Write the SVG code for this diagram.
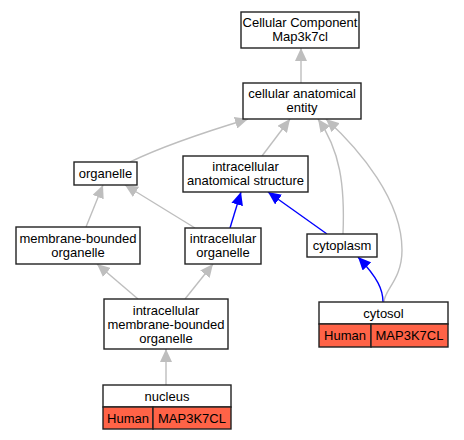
<svg xmlns="http://www.w3.org/2000/svg" width="464" height="440" viewBox="0 0 464 440">
<style>
.box{fill:#fff;stroke:#222;stroke-width:1.4}
.gene{fill:#ff6347;stroke:#222;stroke-width:1.4}
text{font-family:"Liberation Sans",Arial,sans-serif;font-size:13px;text-anchor:middle;fill:#000}
.g{fill:none;stroke:#bebebe;stroke-width:1.4}
.b{fill:none;stroke:#0000ff;stroke-width:1.4}
</style>
<defs>
<marker id="ag" viewBox="0 0 13 12" refX="13" refY="6" markerWidth="13" markerHeight="12" markerUnits="userSpaceOnUse" orient="auto"><path d="M0,0 L13,6 L0,12 z" fill="#bebebe"/></marker>
<marker id="ab" viewBox="0 0 13 12" refX="13" refY="6" markerWidth="13" markerHeight="12" markerUnits="userSpaceOnUse" orient="auto"><path d="M0,0 L13,6 L0,12 z" fill="#0000ff"/></marker>
</defs>
<rect width="464" height="440" fill="#fff"/>
<g id="connectors">
<path class="g" marker-end="url(#ag)" d="M301,83 L301,48"/>
<path class="g" marker-end="url(#ag)" d="M130,162 C165,145 205,132 248,119"/>
<path class="g" marker-end="url(#ag)" d="M262,156 L290,119"/>
<path class="g" marker-end="url(#ag)" d="M343,234 C345,185 340,150 318,119"/>
<path class="g" marker-end="url(#ag)" d="M384,302 C384,290 402,280 402,250 C402,200 360,150 326,119"/>
<path class="b" marker-end="url(#ab)" d="M383,302 C383,290 378,278 358,257"/>
<path class="b" marker-end="url(#ab)" d="M230,228 L241,192"/>
<path class="b" marker-end="url(#ab)" d="M327,234 L268,192"/>
<path class="g" marker-end="url(#ag)" d="M86,227 L103,185"/>
<path class="g" marker-end="url(#ag)" d="M195,228 L125,185"/>
<path class="g" marker-end="url(#ag)" d="M138,299 L97,264"/>
<path class="g" marker-end="url(#ag)" d="M185,299 L213,264"/>
<path class="g" marker-end="url(#ag)" d="M166,385 L166,349"/>
</g>
<g id="cc"><rect class="box" x="241" y="12" width="118" height="36"/><text x="300" y="27">Cellular Component</text><text x="300" y="41">Map3k7cl</text></g>
<g id="cae"><rect class="box" x="243" y="83" width="118" height="36"/><text x="302" y="98">cellular anatomical</text><text x="302" y="112">entity</text></g>
<g id="organelle"><rect class="box" x="74" y="162" width="63" height="23"/><text x="105.5" y="178">organelle</text></g>
<g id="ias"><rect class="box" x="183" y="156" width="125" height="36"/><text x="245.5" y="171">intracellular</text><text x="245.5" y="185">anatomical structure</text></g>
<g id="io"><rect class="box" x="185" y="228" width="76" height="36"/><text x="223" y="243">intracellular</text><text x="223" y="257">organelle</text></g>
<g id="mbo"><rect class="box" x="16" y="227" width="124" height="37"/><text x="78" y="242.5">membrane-bounded</text><text x="78" y="256.5">organelle</text></g>
<g id="imbo"><rect class="box" x="104" y="299" width="124" height="50"/><text x="166" y="314.5">intracellular</text><text x="166" y="328.5">membrane-bounded</text><text x="166" y="342.5">organelle</text></g>
<g id="cytoplasm"><rect class="box" x="307" y="234" width="70" height="23"/><text x="342" y="250">cytoplasm</text></g>
<g id="nucleus"><rect class="box" x="103" y="385" width="128" height="22"/><rect class="gene" x="103" y="407" width="50" height="22"/><rect class="gene" x="153" y="407" width="78" height="22"/><text x="167" y="400.5">nucleus</text><text x="128" y="422.5">Human</text><text x="192" y="422.5">MAP3K7CL</text></g>
<g id="cytosol"><rect class="box" x="319" y="302" width="129" height="22"/><rect class="gene" x="319" y="324" width="52" height="23"/><rect class="gene" x="371" y="324" width="77" height="23"/><text x="383.5" y="317.5">cytosol</text><text x="345" y="340">Human</text><text x="409.5" y="340">MAP3K7CL</text></g>
</svg>
